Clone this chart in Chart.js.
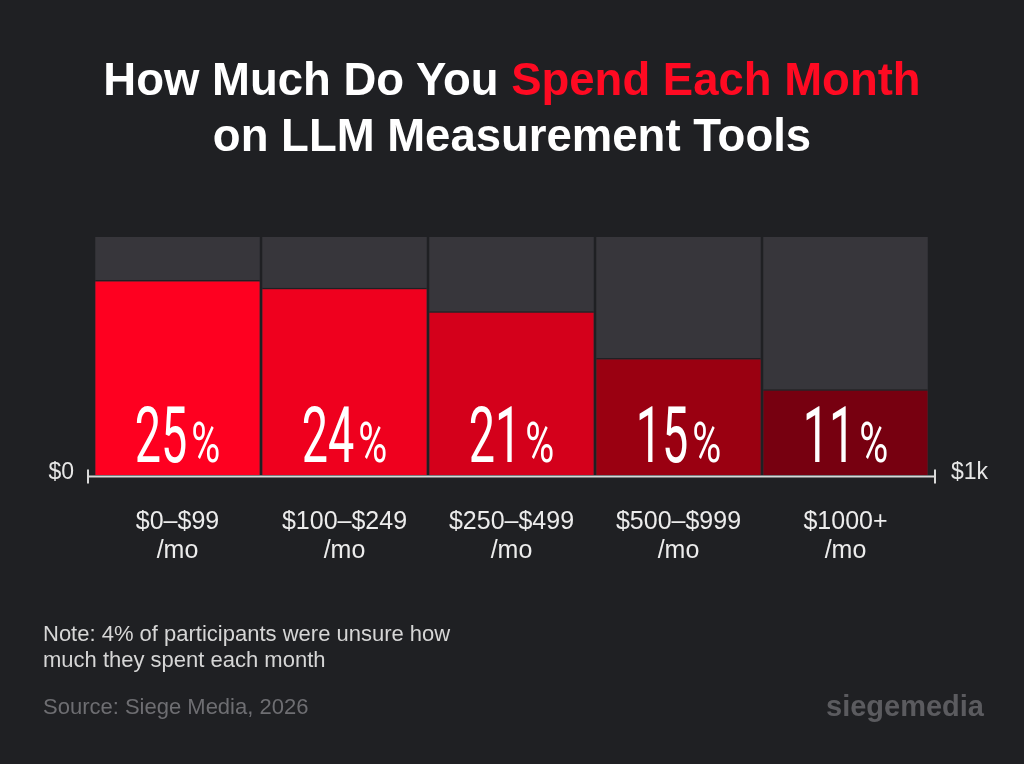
<!DOCTYPE html>
<html>
<head>
<meta charset="utf-8">
<script src="https://cdn.jsdelivr.net/npm/chart.js@4.4.1/dist/chart.umd.min.js"></script>
<style>
  html, body { margin: 0; padding: 0; background: #1f2023; }
  body { width: 1024px; height: 764px; position: relative; overflow: hidden; font-family: "Liberation Sans", Arial, sans-serif; }
  #chart { position: absolute; left: 0; top: 0; }
  .title { position: absolute; left: 0; top: 52px; width: 1024px; text-align: center; color: #fff;
           font-family: "Liberation Sans", Arial, sans-serif; font-weight: bold; font-size: 45.5px; line-height: 56px; }
  .title .hl { color: #ff0a22; }
  .note { position: absolute; left: 43px; top: 621px; color: #d6d6d6; font-size: 22px; line-height: 26px; }
  .source { position: absolute; left: 43px; top: 694px; color: #6e6e72; font-size: 22px; }
  .logo { position: absolute; left: 826px; top: 690px; color: #5b5b5f; font-weight: bold; font-size: 29px; }
</style>
</head>
<body>
<canvas id="chart" width="1024" height="764"></canvas>
<div class="title">How Much Do You <span class="hl">Spend Each Month</span><br>on LLM Measurement Tools</div>
<div class="note">Note: 4% of participants were unsure how<br>much they spent each month</div>
<div class="source">Source: Siege Media, 2026</div>
<div class="logo">siegemedia</div>

<script>
// data
const categories = [
  ["$0–$99", "/mo"],
  ["$100–$249", "/mo"],
  ["$250–$499", "/mo"],
  ["$500–$999", "/mo"],
  ["$1000+", "/mo"]
];
const shares = [25, 24, 21, 15, 11];
const trackValues = [30.5, 30.5, 30.5, 30.5, 30.5];
const axisEnds = ["$0", "$1k"];

const barColors = ["#fe0020", "#ef001e", "#d4001b", "#9a0011", "#770010"];
const bg = "#1f2023";

// axis line with end ticks + end labels, and the big % labels in the bars
const decorPlugin = {
  id: "decor",
  afterDatasetsDraw(chart) {
    const ctx = chart.ctx;
    const area = chart.chartArea;
    const y = area.bottom + 1.5;
    const x0 = area.left - 6;
    const x1 = area.right + 6;

    ctx.save();
    ctx.strokeStyle = "#d9d9d9";
    ctx.lineWidth = 2;
    ctx.beginPath();
    ctx.moveTo(x0, y);
    ctx.lineTo(x1, y);
    ctx.moveTo(x0, y - 7);
    ctx.lineTo(x0, y + 7);
    ctx.moveTo(x1, y - 7);
    ctx.lineTo(x1, y + 7);
    ctx.stroke();

    ctx.fillStyle = "#e6e6e6";
    ctx.font = "23px 'Liberation Sans', Arial, sans-serif";
    ctx.textBaseline = "alphabetic";
    ctx.textAlign = "right";
    ctx.fillText(axisEnds[0], x0 - 14, y + 2);
    ctx.textAlign = "left";
    ctx.fillText(axisEnds[1], x1 + 16, y + 2);

    // condensed value labels
    const meta = chart.getDatasetMeta(0);
    const numFont = "400 78px Roboto, sans-serif";
    const pctFont = "400 55px Roboto, sans-serif";
    const sxNum = 0.6, sxPct = 0.72, gap = 4;
    meta.data.forEach((bar, i) => {
      const num = String(shares[i]);
      ctx.font = numFont;
      const wn = ctx.measureText(num).width * sxNum;
      ctx.font = pctFont;
      const wp = ctx.measureText("%").width * sxPct;
      const start = bar.x - (wn + gap + wp) / 2;
      const base = area.bottom - 13;
      ctx.fillStyle = "#ffffff";
      ctx.textAlign = "left";

      ctx.save();
      ctx.translate(start, base);
      ctx.scale(sxNum, 1);
      ctx.font = numFont;
      ctx.fillText(num, 0, 0);
      ctx.restore();

      ctx.save();
      ctx.translate(start + wn + gap, base);
      ctx.scale(sxPct, 1);
      ctx.font = pctFont;
      ctx.fillText("%", 0, 0);
      ctx.restore();
    });
    ctx.restore();
  }
};

new Chart(document.getElementById("chart"), {
  type: "bar",
  data: {
    labels: categories,
    datasets: [
      {
        label: "Share",
        data: shares,
        backgroundColor: barColors,
        borderColor: bg,
        borderWidth: { top: 1.5, left: 0, right: 0, bottom: 0 },
        borderSkipped: "bottom",
        order: 1
      },
      {
        label: "Track",
        data: trackValues,
        backgroundColor: "#37363b",
        borderWidth: 0,
        order: 2
      }
    ]
  },
  options: {
    responsive: false,
    animation: false,
    events: [],
    datasets: {
      bar: { barPercentage: 0.985, categoryPercentage: 1 }
    },
    layout: {
      padding: { left: 94, right: 95, top: 237, bottom: 174.5 }
    },
    plugins: {
      legend: { display: false },
      tooltip: { enabled: false }
    },
    scales: {
      x: {
        stacked: true,
        grid: { display: false },
        border: { display: false },
        ticks: {
          color: "#ececec",
          padding: 24,
          maxRotation: 0,
          autoSkip: false,
          font: { family: "'Liberation Sans', Arial, sans-serif", size: 25, lineHeight: 1.17 }
        }
      },
      y: {
        stacked: false,
        display: false,
        min: 0,
        max: 30.5
      }
    }
  },
  plugins: [decorPlugin]
});
</script>
</body>
</html>
